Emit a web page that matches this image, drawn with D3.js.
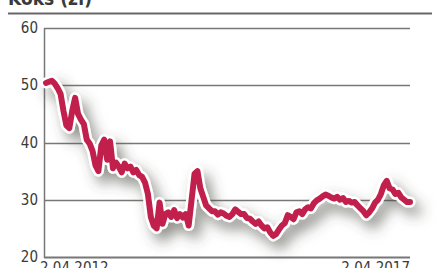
<!DOCTYPE html>
<html>
<head>
<meta charset="utf-8">
<script src="https://cdn.jsdelivr.net/npm/d3@7"></script>
<style>
  html, body { margin: 0; padding: 0; background: #fff; }
  svg { display: block; }
  text { font-family: "DejaVu Sans Condensed", Roboto, sans-serif; fill: #3a3a3a; }
</style>
</head>
<body>
<svg id="chart"></svg>
<script>
const WIDTH = 439;
const HEIGHT = 268;

const TITLE = "Koks (zł)";
const START_DATE = new Date(2012, 3, 2);
const END_DATE = new Date(2017, 3, 2);
const X_TICKS = [new Date(2012, 3, 2), new Date(2017, 3, 2)];
const X_TICK_LABELS = ["2.04.2012", "2.04.2017"];
const Y_TICKS = [20, 30, 40, 50, 60];

// price, roughly every two weeks
const prices = [
    50.4, 50.6, 50.8, 50.3, 49.5, 48.5, 45.5, 43.0, 42.5, 45.5,
    47.8, 45.0, 44.0, 43.2, 40.5, 39.8, 38.5, 36.0, 35.0, 39.5,
    40.5, 37.0, 40.2, 35.5, 36.5, 35.8, 34.8, 36.3, 35.5, 35.8,
    34.8, 35.2, 34.3, 34.0, 33.0, 31.0, 27.0, 25.5, 25.0, 29.5,
    25.8, 27.5, 27.8, 27.0, 28.2, 26.8, 27.5, 26.9, 27.5, 25.5,
    30.0, 34.5, 35.0, 32.0, 30.5, 29.0, 28.5, 28.0, 28.0, 27.4,
    27.8, 27.6, 27.2, 27.0, 27.5, 28.3, 27.9, 27.5, 27.5, 26.8,
    26.7, 26.2, 25.8, 26.2, 25.5, 25.0, 25.2, 24.3, 23.7, 24.0,
    24.8, 25.5, 25.9, 27.3, 27.0, 26.6, 27.8, 28.0, 27.5, 28.3,
    28.7, 28.5, 29.4, 29.9, 30.2, 30.6, 30.9, 30.7, 30.4, 30.2,
    30.5, 30.0, 30.3, 29.6, 29.8, 29.5, 29.6, 29.0, 28.5, 28.0,
    27.3, 27.8, 28.5, 29.5, 30.0, 31.0, 32.5, 33.3, 32.0, 31.8,
    31.0, 31.2, 30.4, 30.0, 29.6, 29.6
];

const step = (END_DATE - START_DATE) / (prices.length - 1);
const data = prices.map((v, i) => ({ date: new Date(+START_DATE + i * step), value: v }));

function main(){
    const svg = d3.select("#chart")
        .attr("width", WIDTH)
        .attr("height", HEIGHT);

    const x = d3.scaleTime().domain([START_DATE, END_DATE]).range([46, 410]);
    const y = d3.scaleLinear().domain([20, 60]).range([257, 28]);

    const defs = svg.append("defs");
    const shadow = defs.append("filter")
        .attr("id", "shadow")
        .attr("x", "-20%").attr("y", "-30%")
        .attr("width", "150%").attr("height", "180%");
    shadow.append("feDropShadow")
        .attr("dx", 6).attr("dy", 8)
        .attr("stdDeviation", 7)
        .attr("flood-color", "#45453a")
        .attr("flood-opacity", 0.6);

    // title (cut off at the top) and rule
    svg.append("text")
        .attr("x", 8).attr("y", 5)
        .attr("font-size", 19)
        .attr("font-weight", "bold")
        .text(TITLE);
    svg.append("line")
        .attr("x1", 8).attr("x2", 432)
        .attr("y1", 13.5).attr("y2", 13.5)
        .attr("stroke", "#666").attr("stroke-width", 2);

    // gridlines
    svg.append("g")
        .selectAll("line")
        .data(Y_TICKS)
        .join("line")
        .attr("x1", 44).attr("x2", 410)
        .attr("y1", d => Math.round(y(d)) + 0.5)
        .attr("y2", d => Math.round(y(d)) + 0.5)
        .attr("stroke", "#777")
        .attr("stroke-width", d => d == 20 ? 2 : 1.5);

    svg.append("line")
        .attr("x1", 44.5).attr("x2", 44.5)
        .attr("y1", y(60)).attr("y2", y(20) + 1)
        .attr("stroke", "#777").attr("stroke-width", 1.5);

    // y labels
    svg.append("g")
        .selectAll("text")
        .data(Y_TICKS)
        .join("text")
        .attr("x", 38)
        .attr("y", d => y(d) + 5)
        .attr("text-anchor", "end")
        .attr("font-size", 15)
        .text(d => d);

    // x labels
    svg.append("g")
        .selectAll("text")
        .data(X_TICKS)
        .join("text")
        .attr("x", (d, i) => i == 0 ? x(d) - 6 : x(d))
        .attr("y", 273)
        .attr("text-anchor", (d, i) => i == 0 ? "start" : "end")
        .attr("font-size", 15)
        .text((d, i) => X_TICK_LABELS[i]);

    const line = d3.line()
        .x(d => x(d.date))
        .y(d => y(d.value))
        .curve(d3.curveLinear);

    const g = svg.append("g").attr("filter", "url(#shadow)");
    g.append("path")
        .datum(data)
        .attr("d", line)
        .attr("fill", "none")
        .attr("stroke", "#fff")
        .attr("stroke-width", 11)
        .attr("stroke-linejoin", "round")
        .attr("stroke-linecap", "round");
    svg.append("path")
        .datum(data)
        .attr("d", line)
        .attr("fill", "none")
        .attr("stroke", "#c1204c")
        .attr("stroke-width", 6)
        .attr("stroke-linejoin", "round")
        .attr("stroke-linecap", "round");
}

main();
</script>
</body>
</html>
